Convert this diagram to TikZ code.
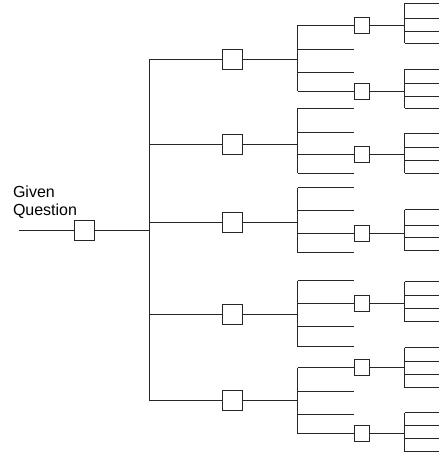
\documentclass[tikz,border=0pt]{standalone}
\usepackage{fontspec}
\setmainfont{Liberation Sans}
\begin{document}
\begin{tikzpicture}[x=1pt,y=-1pt, line width=1pt,
  ln/.style={draw=black!85},
  boxa/.style={draw=black!85, fill=white, minimum width=20pt, minimum height=20pt, inner sep=0pt},
  boxb/.style={draw=black!85, fill=white, minimum width=15pt, minimum height=16pt, inner sep=0pt},
  lbl/.style={anchor=base west, inner sep=0pt, font=\fontsize{16}{18}\selectfont}]
\useasboundingbox (0,0) rectangle (438,454);
\begin{scope}[shift={(0.5,0.5)}]
% label
\node[lbl] (given) at (12,197) {Given};
\node[lbl] (question) at (12,215) {Question};
% root
\coordinate (s) at (18,230);
\node[boxa] (r) at (84,230) {};
\coordinate (t) at (149,230);
\draw[ln] (s) -- (r) -- (t);
\coordinate (ttop) at (149,59);
\coordinate (tbot) at (149,400);
\draw[ln] (ttop) -- (tbot);
% level 1
\foreach \i/\y in {1/59,2/144,3/222,4/314,5/400}{
  \coordinate (a\i) at (149,\y);
  \node[boxa] (b\i) at (231.5,\y) {};
  \coordinate (c\i) at (297,\y);
  \draw[ln] (a\i) -- (b\i) -- (c\i);
}
% level 2 fans
\foreach \g/\ya/\yb/\yc/\yd in {1/25/49/72/91, 2/108/132/154/173, 3/187/210/233/252, 4/280/303/326/346, 5/367/391/414/433}{
  \foreach \k/\y in {1/\ya,2/\yb,3/\yc,4/\yd}{
    \coordinate (g\g-\k) at (297,\y);
    \coordinate (e\g-\k) at (353.5,\y);
    \draw[ln] (g\g-\k) -- (e\g-\k);
  }
  \draw[ln] (g\g-1) -- (g\g-4);
}
% level 2 boxes and level 3 fans
\foreach \n/\y/\ya/\yb/\yc/\yd in {1/25/3/18/31/43, 2/91/69/83/96/108, 3/154/133/147/160/173, 4/233/209/225/237/250, 5/303/281/295/308/321, 6/367/347/361/374/387, 7/433/412/425/438/451}{
  \node[boxb] (q\n) at (361,\y) {};
  \coordinate (v\n) at (404,\y);
  \draw[ln] (q\n) -- (v\n);
  \foreach \k/\yy in {1/\ya,2/\yb,3/\yc,4/\yd}{
    \coordinate (v\n-\k) at (404,\yy);
    \coordinate (w\n-\k) at (438,\yy);
    \draw[ln] (v\n-\k) -- (w\n-\k);
  }
  \draw[ln] (v\n-1) -- (v\n-4);
}
\end{scope}
\end{tikzpicture}
\end{document}
